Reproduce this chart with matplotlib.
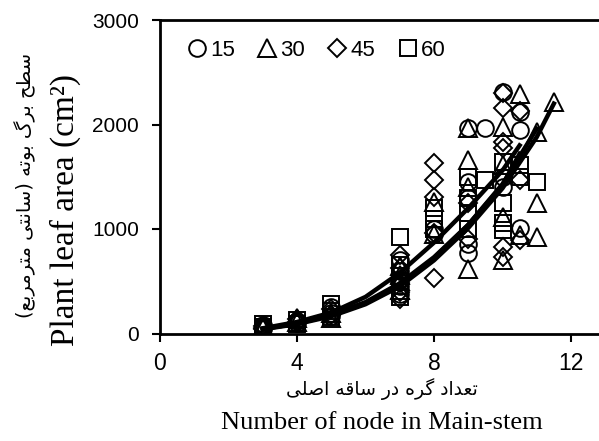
import matplotlib
matplotlib.use('Agg')
import matplotlib.pyplot as plt

# observed points, one list pair per planting density
x_15 = [3, 3, 3, 4, 4, 5, 5, 5, 7, 7, 7, 7, 7, 8, 8, 9, 9, 9, 9, 9, 9.5, 10, 10, 10,
        10.5, 10.5, 10.5]
y_15 = [60, 80, 40, 120, 100, 200, 250, 170, 450, 600, 700, 380, 520, 950, 1000,
        1965, 770, 860, 1300, 1450, 1965, 2310, 1500, 1400, 2120, 1945, 1010]
x_30 = [3, 3, 4, 4, 5, 5, 7, 7, 7, 7, 8, 8, 9, 9, 9, 9, 10, 10, 10, 10, 10.5, 10.5,
        11, 11, 11, 11.5]
y_30 = [50, 75, 150, 110, 200, 150, 500, 650, 420, 560, 1260, 950, 1965, 1660, 620,
        1400, 1975, 1610, 1115, 700, 2290, 945, 1925, 1250, 925, 2215]
x_45 = [3, 3, 3, 4, 4, 5, 5, 7, 7, 7, 7, 7, 8, 8, 8, 8, 8, 9, 9, 10, 10, 10, 10, 10,
        10, 10.5, 10.5, 10.5]
y_45 = [40, 70, 55, 110, 135, 180, 230, 330, 400, 750, 480, 630, 1630, 1465, 1305,
        530, 960, 1250, 900, 2300, 2160, 1830, 1775, 830, 730, 2130, 1465, 890]
x_60 = [3, 3, 3, 4, 4, 5, 5, 5, 7, 7, 7, 7, 7, 8, 8, 8, 9, 9, 9, 9, 9.5, 10, 10, 10,
        10, 10.5, 10.5, 11]
y_60 = [60, 90, 45, 130, 90, 220, 280, 160, 925, 450, 550, 350, 660, 1000, 1100, 1200,
        1500, 1300, 1150, 1000, 1470, 1640, 1250, 1055, 990, 1610, 1495, 1450]

# fitted trend lines
fx_15 = [3, 4, 5, 6, 7, 8, 9, 10, 10.5]
fy_15 = [45, 95, 180, 300, 480, 730, 1040, 1420, 1720]
fx_30 = [3, 4, 5, 6, 7, 8, 9, 10, 11, 11.5]
fy_30 = [40, 90, 165, 280, 450, 700, 1010, 1390, 1880, 2200]
fx_45 = [3, 4, 5, 6, 7, 8, 9, 10, 10.5]
fy_45 = [50, 110, 200, 350, 580, 870, 1200, 1560, 1800]
fx_60 = [3, 4, 5, 6, 7, 8, 9, 10, 11]
fy_60 = [45, 95, 175, 290, 470, 720, 1040, 1430, 1960]

labels = ['15', '30', '45', '60']
x_ticks = [0, 4, 8, 12]
y_ticks = [0, 1000, 2000, 3000]

# minimal Persian shaping (presentation forms), since matplotlib has no shaper
FORMS = {
    'ا': ('\uFE8D', '\uFE8E', None, None),
    'ب': ('\uFE8F', '\uFE90', '\uFE91', '\uFE92'),
    'ت': ('\uFE95', '\uFE96', '\uFE97', '\uFE98'),
    'ح': ('\uFEA1', '\uFEA2', '\uFEA3', '\uFEA4'),
    'د': ('\uFEA9', '\uFEAA', None, None),
    'ر': ('\uFEAD', '\uFEAE', None, None),
    'س': ('\uFEB1', '\uFEB2', '\uFEB3', '\uFEB4'),
    'ص': ('\uFEB9', '\uFEBA', '\uFEBB', '\uFEBC'),
    'ط': ('\uFEC1', '\uFEC2', '\uFEC3', '\uFEC4'),
    'ع': ('\uFEC9', '\uFECA', '\uFECB', '\uFECC'),
    'ق': ('\uFED5', '\uFED6', '\uFED7', '\uFED8'),
    'ل': ('\uFEDD', '\uFEDE', '\uFEDF', '\uFEE0'),
    'م': ('\uFEE1', '\uFEE2', '\uFEE3', '\uFEE4'),
    'ن': ('\uFEE5', '\uFEE6', '\uFEE7', '\uFEE8'),
    'ه': ('\uFEE9', '\uFEEA', '\uFEEB', '\uFEEC'),
    'و': ('\uFEED', '\uFEEE', None, None),
    'ی': ('\uFBFC', '\uFBFD', '\uFBFE', '\uFBFF'),
    'گ': ('\uFB92', '\uFB93', '\uFB94', '\uFB95'),
}
MIRROR = {'(': ')', ')': '('}


def shape_fa(text):
    out = []
    for i, ch in enumerate(text):
        if ch not in FORMS:
            out.append(MIRROR.get(ch, ch))
            continue
        prev = text[i - 1] if i > 0 else ''
        nxt = text[i + 1] if i + 1 < len(text) else ''
        join_prev = prev in FORMS and FORMS[prev][2] is not None
        join_next = nxt in FORMS and FORMS[ch][2] is not None
        iso, fin, ini, med = FORMS[ch]
        if join_prev and join_next:
            out.append(med)
        elif join_prev:
            out.append(fin)
        elif join_next:
            out.append(ini)
        else:
            out.append(iso)
    return ''.join(reversed(out))


fig = plt.figure(figsize=(5.99, 4.41), dpi=100)
ax = fig.add_axes([160 / 599, 107.5 / 441, 445 / 599, 313.5 / 441])

series = [
    (x_15, y_15, fx_15, fy_15, 'o', 12),
    (x_30, y_30, fx_30, fy_30, '^', 13.5),
    (x_45, y_45, fx_45, fy_45, 'D', 9),
    (x_60, y_60, fx_60, fy_60, 's', 12),
]
handles = []
for (xs, ys, fx, fy, mk, ms), lab in zip(series, labels):
    h, = ax.plot(xs, ys, linestyle='none', marker=mk, markersize=ms,
                 markerfacecolor='none', markeredgecolor='black',
                 markeredgewidth=1.4, label=lab)
    handles.append(h)
for xs, ys, fx, fy, mk, ms in series:
    ax.plot(fx, fy, color='black', linewidth=3.2, zorder=3)

ax.set_xlim(0, 445 / 34.25)
ax.set_ylim(0, 3000)
ax.set_xticks(x_ticks)
ax.set_yticks(y_ticks)
ax.tick_params(axis='both', direction='out', length=6, width=1.5)
ax.tick_params(axis='x', labelsize=16.5, pad=7)
ax.tick_params(axis='y', labelsize=15, pad=9)
for lab in ax.get_xticklabels() + ax.get_yticklabels():
    lab.set_fontfamily('Liberation Sans')
for side in ['left', 'bottom', 'top']:
    ax.spines[side].set_linewidth(2)
ax.spines['right'].set_visible(False)

ax.legend(handles=handles, loc='upper left', bbox_to_anchor=(0.04, 0.965),
          ncol=4, frameon=False, handlelength=0.9, handletextpad=0.15,
          columnspacing=1.0, borderaxespad=0,
          prop={'family': 'Liberation Sans', 'size': 16})

fig.text(382 / 599, 1 - 423 / 441, 'Number of node in Main-stem',
         family='Liberation Serif', fontsize=19, ha='center', va='center')
fig.text(382 / 599, 1 - 389 / 441, shape_fa('تعداد گره در ساقه اصلی'),
         family='DejaVu Sans', fontsize=13.5, ha='center', va='center')
fig.text(65 / 599, 1 - 210 / 441, 'Plant leaf area (cm²)',
         family='Liberation Serif', fontsize=24, rotation=90,
         ha='center', va='center')
fig.text(25 / 599, 1 - 185 / 441, shape_fa('سطح برگ بوته (سانتی مترمربع)'),
         family='DejaVu Sans', fontsize=14, rotation=90,
         ha='center', va='center')

fig.savefig('out.png', dpi=100)
